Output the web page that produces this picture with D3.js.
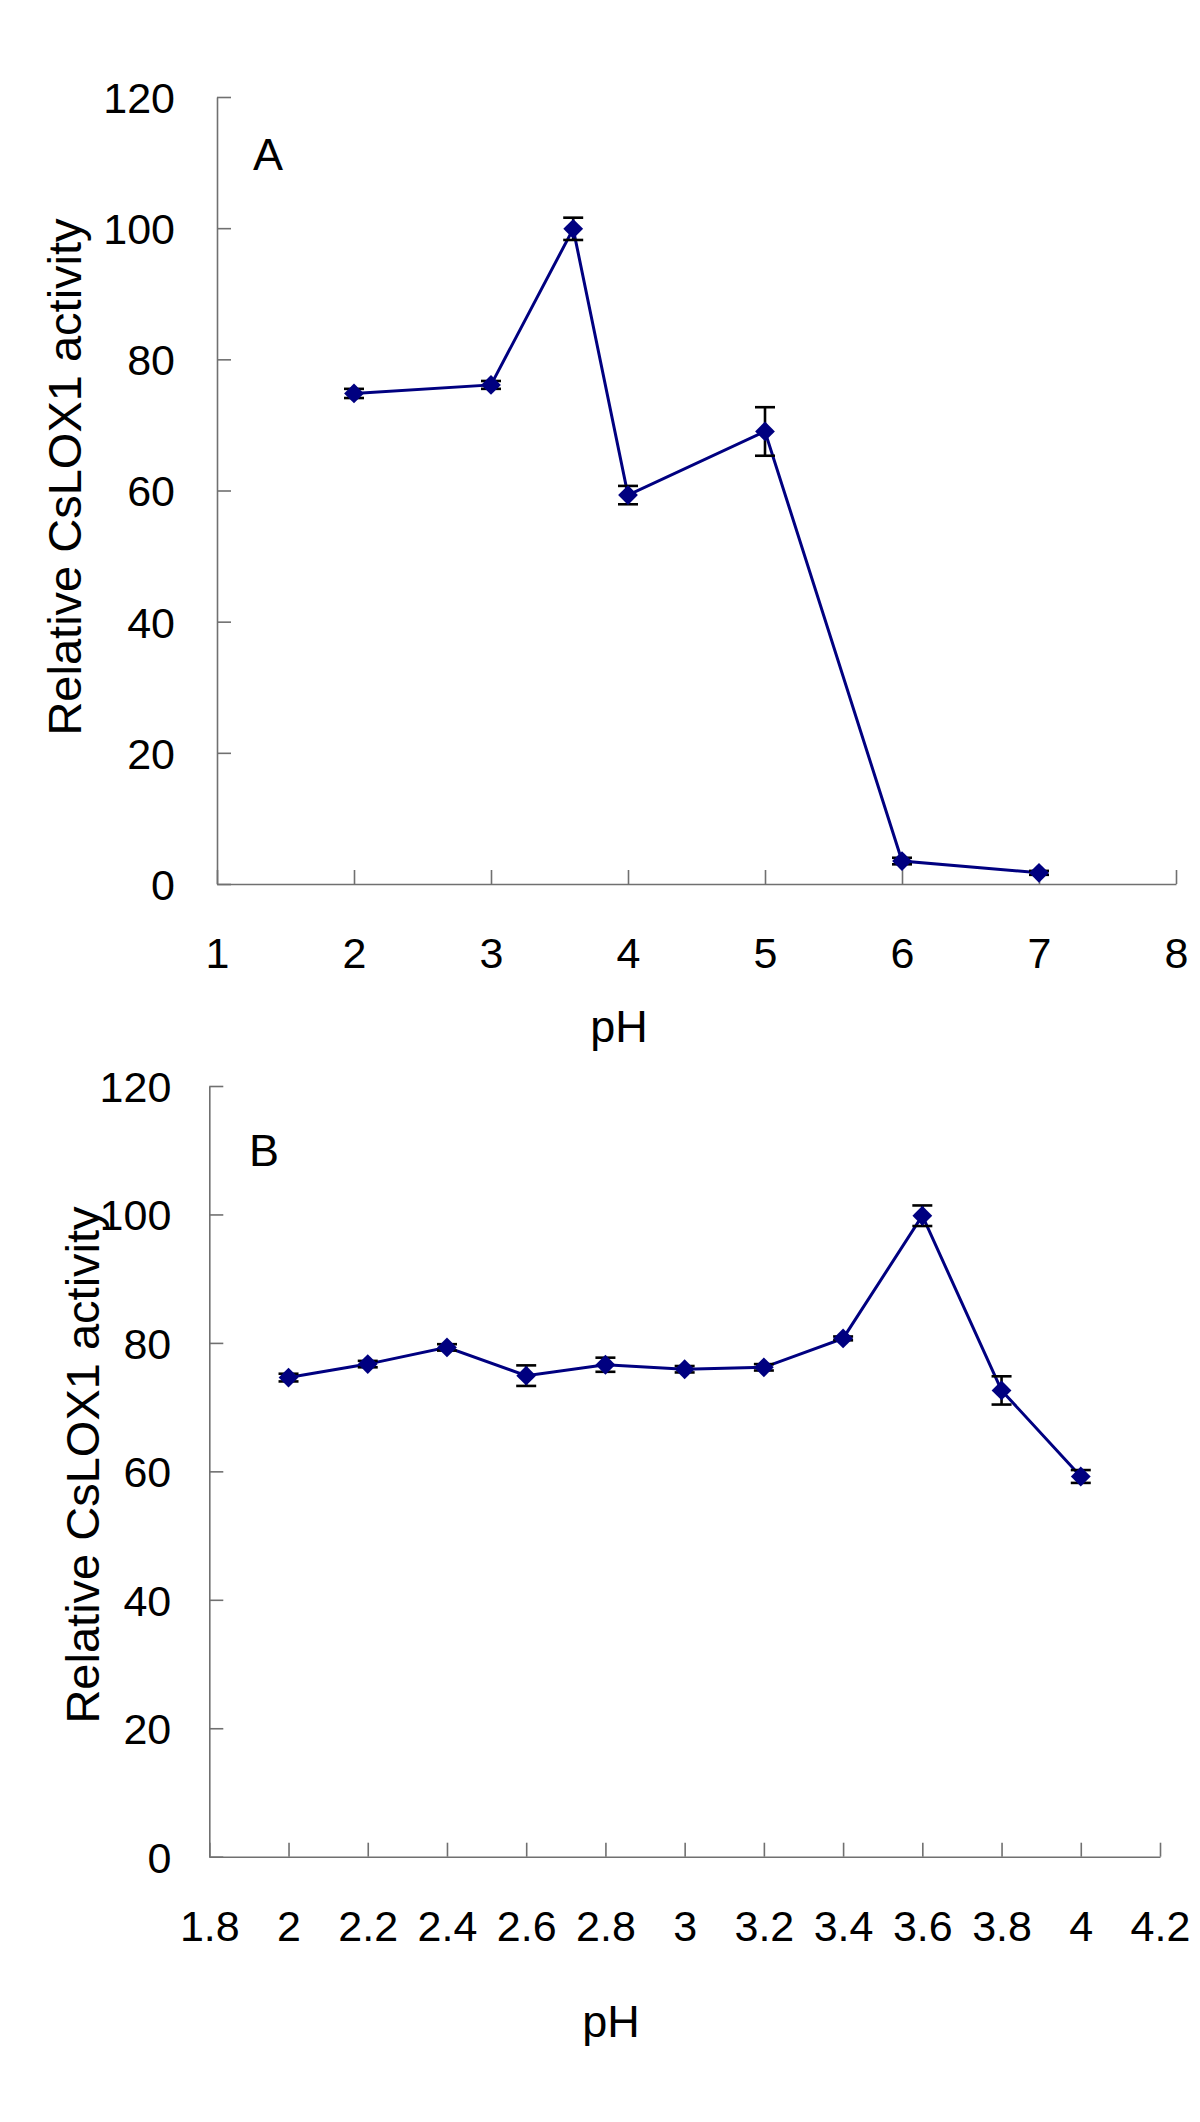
<!DOCTYPE html>
<html>
<head>
<meta charset="utf-8">
<script src="https://cdn.jsdelivr.net/npm/d3@7"></script>
<style>
  html, body { margin: 0; padding: 0; background: #fff; }
  svg { display: block; }
  text { font-family: "Liberation Sans", Arial, sans-serif; fill: #000; }
</style>
</head>
<body>
<svg id="chart" width="1200" height="2122"></svg>
<script>
// ---- Data ----
const phA = [2, 3, 3.6, 4, 5, 6, 7];
const actA = [74.8, 76.1, 99.9, 59.3, 69.0, 3.5, 1.7];
const errA = [0.7, 0.6, 1.7, 1.4, 3.7, 0.5, 0.3];
const xTicksA = [1, 2, 3, 4, 5, 6, 7, 8];

const phB = [2, 2.2, 2.4, 2.6, 2.8, 3, 3.2, 3.4, 3.6, 3.8, 4];
const actB = [74.6, 76.7, 79.3, 74.9, 76.6, 75.9, 76.2, 80.7, 99.8, 72.6, 59.2];
const errB = [0.6, 0.5, 0.5, 1.6, 1.1, 0.5, 0.5, 0.3, 1.6, 2.2, 1.0];
const xTicksB = [1.8, 2, 2.2, 2.4, 2.6, 2.8, 3, 3.2, 3.4, 3.6, 3.8, 4, 4.2];

const yTicks = [0, 20, 40, 60, 80, 100, 120];
const yTitle = "Relative CsLOX1 activity";
const xTitle = "pH";

const svg = d3.select("#chart");

function panel(cfg) {
  const x = d3.scaleLinear().domain(cfg.xDomain).range(cfg.xRange);
  const y = d3.scaleLinear().domain([0, 120]).range(cfg.yRange);
  const g = svg.append("g");
  const axisColor = "#707070";

  // Y axis
  const ya = g.append("g")
    .attr("transform", `translate(${cfg.xRange[0]},0)`)
    .call(d3.axisLeft(y).tickValues(yTicks).tickSize(-14).tickSizeOuter(0).tickPadding(cfg.yPad).tickFormat(d3.format("d")));
  ya.selectAll("path.domain, line").attr("stroke", axisColor).attr("stroke-width", 1.6);
  ya.selectAll("text").attr("font-size", 43).attr("fill", "#000").attr("dy", "0.36em")
    .style("font-family", '"Liberation Sans", Arial, sans-serif');

  // X axis
  const xa = g.append("g")
    .attr("transform", `translate(0,${cfg.yRange[0]})`)
    .call(d3.axisBottom(x).tickValues(cfg.xTicks).tickSize(-14).tickSizeOuter(0).tickFormat(d => String(+d.toFixed(1))));
  xa.selectAll("path.domain, line").attr("stroke", axisColor).attr("stroke-width", 1.6);
  xa.selectAll("text").attr("font-size", 43).attr("fill", "#000").attr("y", 84).attr("dy", "0")
    .style("font-family", '"Liberation Sans", Arial, sans-serif');

  const pts = cfg.ph.map((p, i) => ({ p, v: cfg.act[i], e: cfg.err[i] }));

  // Line
  g.append("path")
    .datum(pts)
    .attr("fill", "none")
    .attr("stroke", "#000080")
    .attr("stroke-width", 3)
    .attr("d", d3.line().x(d => x(d.p)).y(d => y(d.v)));

  // Error bars
  const eb = g.append("g").attr("stroke", "#000").attr("stroke-width", 2.6);
  eb.selectAll("line.v").data(pts).join("line")
    .attr("x1", d => x(d.p)).attr("x2", d => x(d.p))
    .attr("y1", d => y(d.v + d.e)).attr("y2", d => y(d.v - d.e));
  eb.selectAll("line.t").data(pts).join("line")
    .attr("x1", d => x(d.p) - 10).attr("x2", d => x(d.p) + 10)
    .attr("y1", d => y(d.v + d.e)).attr("y2", d => y(d.v + d.e));
  eb.selectAll("line.b").data(pts).join("line")
    .attr("x1", d => x(d.p) - 10).attr("x2", d => x(d.p) + 10)
    .attr("y1", d => y(d.v - d.e)).attr("y2", d => y(d.v - d.e));

  // Diamond markers
  g.selectAll("rect.mk").data(pts).join("rect")
    .attr("x", -7).attr("y", -7).attr("width", 14).attr("height", 14)
    .attr("fill", "#000080")
    .attr("transform", d => `translate(${x(d.p)},${y(d.v)}) rotate(45)`);

  // Panel letter
  g.append("text").attr("x", cfg.letterX).attr("y", cfg.letterY)
    .attr("font-size", 45).text(cfg.letter);

  // Axis titles
  g.append("text")
    .attr("transform", `translate(${cfg.yTitleX},${cfg.yTitleY}) rotate(-90)`)
    .attr("text-anchor", "middle").attr("font-size", 47).text(yTitle);
  g.append("text").attr("x", cfg.xTitleX).attr("y", cfg.xTitleY)
    .attr("text-anchor", "middle").attr("font-size", 45).text(xTitle);
}

panel({
  xDomain: [1, 8], xRange: [217, 1176], yRange: [884, 97],
  xTicks: xTicksA, ph: phA, act: actA, err: errA, yPad: 42,
  letter: "A", letterX: 253, letterY: 170,
  yTitleX: 81, yTitleY: 477, xTitleX: 619, xTitleY: 1042
});

panel({
  xDomain: [1.8, 4.2], xRange: [209.3, 1160], yRange: [1856.7, 1086],
  xTicks: xTicksB, ph: phB, act: actB, err: errB, yPad: 38,
  letter: "B", letterX: 249, letterY: 1166,
  yTitleX: 99, yTitleY: 1465, xTitleX: 611, xTitleY: 2037
});
</script>
</body>
</html>
